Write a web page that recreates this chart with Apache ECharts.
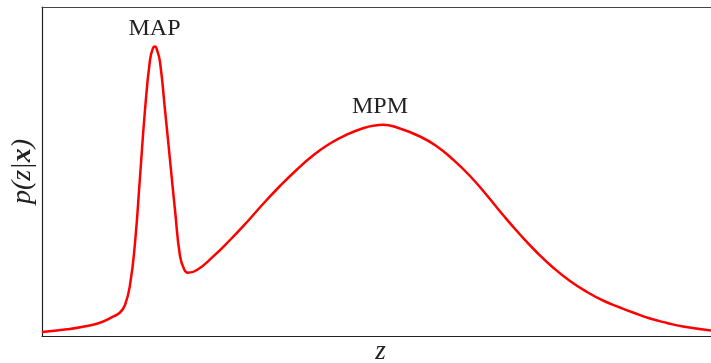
<!DOCTYPE html>
<html>
<head>
  <meta charset="UTF-8" />
  <title>p(z|x)</title>
  <script src="https://cdn.jsdelivr.net/npm/echarts@6.0.0/dist/echarts.min.js"></script>
  <style>
    html, body { margin: 0; padding: 0; background: #fff; }
    #chart { width: 711px; height: 363px; }
  </style>
</head>
<body>
  <div id="chart"></div>
  <script>
    // curve (z, density in plot units)
    const zValues = [42, 67, 83, 100, 113, 120, 125, 130, 135, 140, 145, 150, 153, 155, 157, 160, 165, 170, 175, 180, 184, 188, 197, 213, 230, 247, 263, 280, 297, 313, 330, 347, 363, 375, 383, 397, 420, 437, 453, 470, 487, 503, 520, 537, 553, 570, 587, 603, 620, 633, 650, 667, 683, 711];
    const density = [4, 6.7, 9.3, 13.3, 19.3, 23.5, 31, 51, 93, 159, 226, 276, 288, 289.5, 286, 274, 226, 176, 126, 80, 67, 63.3, 66, 79.3, 96, 114, 132, 150, 166.5, 180.5, 192.5, 201.5, 207.8, 210.6, 211.2, 208.5, 199.5, 189.5, 176.5, 160, 140.5, 121, 101.5, 83.5, 68.5, 55, 44, 35.5, 28.5, 23.5, 17.5, 13, 9.5, 5.5];
    const peakNames = ['MAP', 'MPM'];
    const peakCoords = [[154.5, 289.5], [380, 211.5]];

    const serif = '"Liberation Serif", "DejaVu Serif", serif';
    const chart = echarts.init(document.getElementById('chart'));

    const line = zValues.map((z, i) => [z, density[i]]);

    chart.setOption({
      animation: false,
      grid: { left: 42, right: 0, top: 7, bottom: 27, containLabel: false, outerBoundsMode: 'none' },
      xAxis: [{
        type: 'value', min: 42, max: 711,
        name: 'z', nameLocation: 'middle', nameGap: 2,
        nameTextStyle: { fontFamily: serif, fontStyle: 'italic', fontSize: 27, color: '#222', padding: [0, 0, 0, 8] },
        axisLine: { show: true, lineStyle: { color: '#222', width: 1.2 } },
        axisTick: { show: false }, axisLabel: { show: false }, splitLine: { show: false }
      }, {
        type: 'value', min: 42, max: 711, position: 'top',
        axisLine: { show: true, lineStyle: { color: '#444', width: 1.2 } },
        axisTick: { show: false }, axisLabel: { show: false }, splitLine: { show: false }
      }],
      yAxis: {
        type: 'value', min: 0, max: 329,
        name: '{i|p(z|}{b|x}{i|)}', nameLocation: 'middle', nameGap: 5, nameRotate: 90,
        nameTextStyle: {
          rich: {
            i: { fontFamily: serif, fontStyle: 'italic', fontSize: 28, color: '#222' },
            b: { fontFamily: serif, fontStyle: 'italic', fontWeight: 'bold', fontSize: 28, color: '#222' }
          }
        },
        axisLine: { show: true, lineStyle: { color: '#222', width: 1.2 } },
        axisTick: { show: false }, axisLabel: { show: false }, splitLine: { show: false }
      },
      series: [{
        type: 'line',
        data: line,
        smooth: 0.5,
        showSymbol: false,
        lineStyle: { color: '#ff0000', width: 2.5 },
        markPoint: {
          symbol: 'circle', symbolSize: 0,
          label: {
            show: true, position: 'top', distance: 6,
            fontFamily: serif, fontSize: 24, color: '#222',
            formatter: p => p.name
          },
          data: peakNames.map((n, i) => ({ name: n, coord: peakCoords[i] }))
        }
      }]
    });
  </script>
</body>
</html>
